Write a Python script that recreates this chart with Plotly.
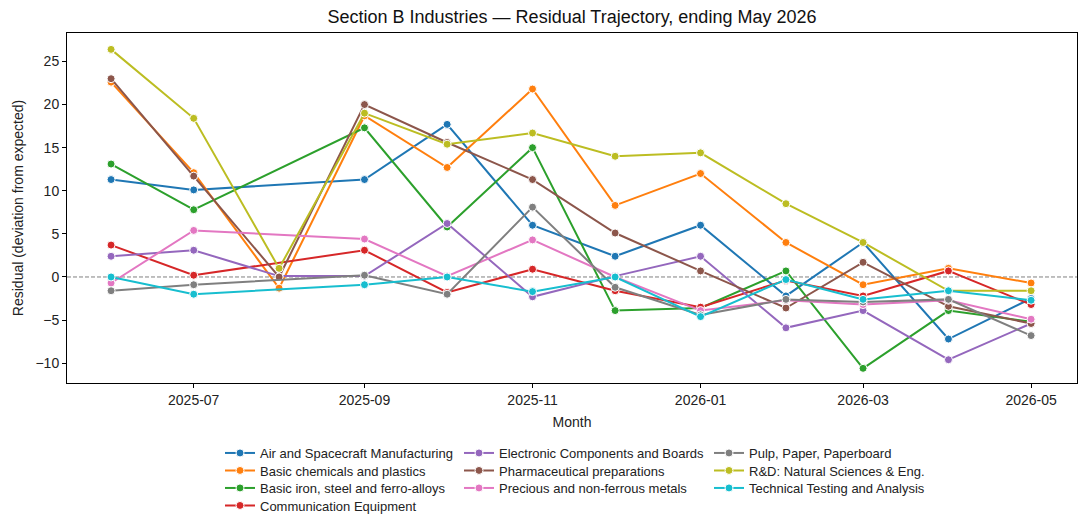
import plotly.graph_objects as go

months = ["2025-06-01", "2025-07-01", "2025-08-01", "2025-09-01", "2025-10-01", "2025-11-01",
          "2025-12-01", "2026-01-01", "2026-02-01", "2026-03-01", "2026-04-01", "2026-05-01"]

air_spacecraft = [11.3, 10.1, None, 11.3, 17.7, 6.0, 2.4, 6.0, -2.2, 4.0, -7.2, -2.5]
basic_chemicals = [22.6, 12.1, -1.3, 18.7, 12.7, 21.8, 8.3, 12.0, 4.0, -0.9, 1.0, -0.7]
basic_iron = [13.1, 7.8, None, 17.3, 5.8, 15.0, -3.9, -3.6, 0.7, -10.6, -3.9, -5.2]
communication = [3.7, 0.2, None, 3.1, -1.8, 0.9, -1.6, -3.5, -0.4, -2.2, 0.7, -3.2]
electronic = [2.4, 3.1, 0.1, 0.1, 6.2, -2.3, 0.1, 2.4, -5.9, -3.9, -9.6, -5.4]
pharma = [23.0, 11.7, 0.0, 20.0, 15.6, 11.3, 5.1, 0.7, -3.6, 1.7, -3.4, -5.4]
precious = [-0.7, 5.4, None, 4.4, 0.1, 4.3, 0.0, -3.9, -2.7, -3.2, -2.7, -4.9]
pulp_paper = [-1.6, -0.9, None, 0.2, -2.0, 8.1, -1.2, -4.4, -2.6, -2.9, -2.6, -6.8]
rnd = [26.4, 18.4, 1.0, 19.0, 15.4, 16.7, 14.0, 14.4, 8.5, 4.0, -1.6, -1.6]
testing = [0.0, -2.0, None, -0.9, 0.0, -1.7, 0.0, -4.6, -0.3, -2.6, -1.6, -2.7]

names = ["Air and Spacecraft Manufacturing", "Basic chemicals and plastics",
         "Basic iron, steel and ferro-alloys", "Communication Equipment",
         "Electronic Components and Boards", "Pharmaceutical preparations",
         "Precious and non-ferrous metals", "Pulp, Paper, Paperboard",
         "R&D: Natural Sciences & Eng.", "Technical Testing and Analysis"]
series = [air_spacecraft, basic_chemicals, basic_iron, communication, electronic,
          pharma, precious, pulp_paper, rnd, testing]
colors = ["#1f77b4", "#ff7f0e", "#2ca02c", "#d62728", "#9467bd",
          "#8c564b", "#e377c2", "#7f7f7f", "#bcbd22", "#17becf"]

W, H = 1087, 529
ML, MR, MT, MB = 67, 10, 33, 146
PW, PH = W - ML - MR, H - MT - MB
FONT = "Liberation Sans, Arial, sans-serif"

col_x = [220, 459, 709]
row_y = [452, 469.5, 487, 504.5]
slots = [(0, 0), (0, 1), (0, 2), (0, 3), (1, 0), (1, 1), (1, 2), (2, 0), (2, 1), (2, 2)]

fig = go.Figure()
legends = {}
for i, (name, vals, col) in enumerate(zip(names, series, colors)):
    lid = "legend" if i == 0 else f"legend{i + 1}"
    fig.add_trace(go.Scatter(
        x=months, y=vals, name=name, mode="lines+markers", connectgaps=True,
        line=dict(color=col, width=2),
        marker=dict(color=col, size=8, line=dict(color="white", width=1)),
        legend=lid,
    ))
    c, r = slots[i]
    top_px = row_y[r] - 14
    legends[lid] = dict(x=(col_x[c] - ML) / PW, y=-(top_px - (MT + PH)) / PH,
                        xref="paper", yref="paper", xanchor="left", yanchor="top",
                        orientation="v", font=dict(family=FONT, size=13, color="#222"),
                        bgcolor="rgba(0,0,0,0)", itemwidth=30)

fig.add_hline(y=0, line=dict(color="#808080", width=1, dash="4px,2px"), layer="below")

fig.update_layout(
    width=W, height=H,
    margin=dict(l=ML, r=MR, t=MT, b=MB, autoexpand=False),
    plot_bgcolor="white", paper_bgcolor="white",
    font=dict(family=FONT, size=14, color="#222"),
    title=dict(text="Section B Industries \u2014 Residual Trajectory, ending May 2026",
               x=0.5, xref="paper", y=1 - 17 / H, yref="container",
               xanchor="center", yanchor="middle",
               font=dict(family=FONT, size=18, color="#111")),
    showlegend=True,
    **legends,
)

fig.update_xaxes(
    type="date", range=["2025-05-16", "2026-05-17 16:00"],
    tickvals=["2025-07-01", "2025-09-01", "2025-11-01", "2026-01-01", "2026-03-01", "2026-05-01"],
    ticktext=["2025-07", "2025-09", "2025-11", "2026-01", "2026-03", "2026-05"],
    showline=True, linecolor="black", linewidth=1, mirror=True,
    ticks="outside", ticklen=4, tickcolor="black", showgrid=False, zeroline=False,
    title=dict(text="Month", standoff=10, font=dict(size=14)),
    tickfont=dict(size=14),
)
fig.update_yaxes(
    range=[-12.3, 28.3], tickvals=[-10, -5, 0, 5, 10, 15, 20, 25],
    ticktext=["\u221210", "\u22125", "0", "5", "10", "15", "20", "25"],
    showline=True, linecolor="black", linewidth=1, mirror=True,
    ticks="outside", ticklen=4, tickcolor="black", showgrid=False, zeroline=False,
    title=dict(text="Residual (deviation from expected)", standoff=8, font=dict(size=14)),
    tickfont=dict(size=14),
)

fig.write_html("out.html")
